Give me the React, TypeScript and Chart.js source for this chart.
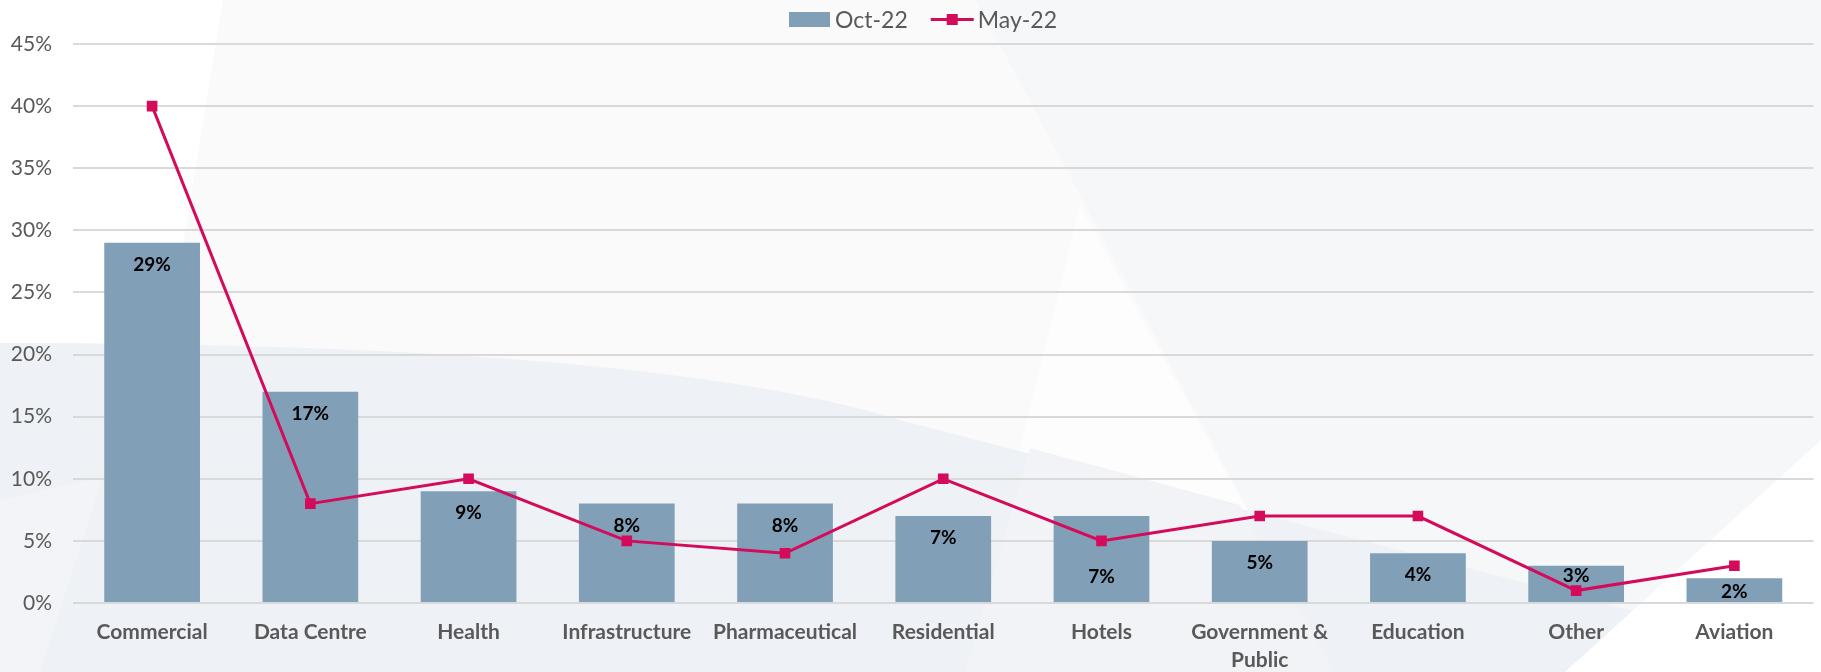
import React, { useEffect, useRef } from "react";
import { Chart, registerables } from "chart.js";

Chart.register(...registerables);

// ---- data ----
const categories: (string | string[])[] = [
  "Commercial",
  "Data Centre",
  "Health",
  "Infrastructure",
  "Pharmaceutical",
  "Residential",
  "Hotels",
  ["Government &", "Public"],
  "Education",
  "Other",
  "Aviation",
];
const oct22Values = [29, 17, 9, 8, 8, 7, 7, 5, 4, 3, 2];
const may22Values = [40, 8, 10, 5, 4, 10, 5, 7, 7, 1, 3];
const seriesNames = ["Oct-22", "May-22"];
const yMin = 0;
const yMax = 45;
const yStep = 5;

// ---- style ----
const FONT = "Lato, 'Open Sans', 'Liberation Sans', sans-serif";
const BAR_COLOR = "#829fb8";
const LINE_COLOR = "#d40a5b";
const TEXT_COLOR = "#595959";
const GRID_COLOR = "#d9d9d9";
// vertical drop (px) of each bar's value label below the bar top
const labelDrops = [22, 22, 22, 22, 22, 22, 61, 22, 22, 10, 14];

const backgroundPlugin = {
  id: "bgShapes",
  beforeDraw(chart: any) {
    const { ctx, width, height } = chart;
    ctx.save();
    ctx.fillStyle = "#fafafb";
    ctx.fillRect(0, 0, width, height);
    // white left strip
    ctx.fillStyle = "#ffffff";
    ctx.beginPath();
    ctx.moveTo(0, 0);
    ctx.lineTo(223, 0);
    ctx.lineTo(113, height);
    ctx.lineTo(0, height);
    ctx.closePath();
    ctx.fill();
    // light band on the right
    ctx.fillStyle = "#f6f7f9";
    ctx.beginPath();
    ctx.moveTo(976, 0);
    ctx.lineTo(width, 0);
    ctx.lineTo(width, height);
    ctx.lineTo(1335, height);
    ctx.closePath();
    ctx.fill();
    // white wedge in the middle
    ctx.fillStyle = "#fdfdfe";
    ctx.beginPath();
    ctx.moveTo(1080, 206);
    ctx.lineTo(1335, height);
    ctx.lineTo(965, height);
    ctx.closePath();
    ctx.fill();
    // lower gray sweep
    ctx.fillStyle = "#eef1f5";
    ctx.beginPath();
    ctx.moveTo(0, 343);
    ctx.quadraticCurveTo(650, 343, 900, 420);
    ctx.lineTo(width, 660);
    ctx.lineTo(width, height);
    ctx.lineTo(0, height);
    ctx.closePath();
    ctx.fill();
    // lighter wedge at far bottom-left
    ctx.fillStyle = "#f2f4f7";
    ctx.beginPath();
    ctx.moveTo(0, 500);
    ctx.lineTo(103, 477);
    ctx.lineTo(40, height);
    ctx.lineTo(0, height);
    ctx.closePath();
    ctx.fill();
    // faint wedge continuing below the sweep
    ctx.fillStyle = "#f1f3f6";
    ctx.beginPath();
    ctx.moveTo(1030, 448);
    ctx.lineTo(1240, 505);
    ctx.lineTo(1335, height);
    ctx.lineTo(965, height);
    ctx.closePath();
    ctx.fill();
    // white triangle bottom-right
    ctx.fillStyle = "#ffffff";
    ctx.beginPath();
    ctx.moveTo(width, 440);
    ctx.lineTo(width, height);
    ctx.lineTo(1565, height);
    ctx.closePath();
    ctx.fill();
    ctx.restore();
  },
};

const legendPlugin = {
  id: "customLegend",
  afterDraw(chart: any) {
    const { ctx } = chart;
    ctx.save();
    ctx.font = `23px ${FONT}`;
    ctx.textBaseline = "middle";
    const w1 = ctx.measureText(seriesNames[0]).width;
    const w2 = ctx.measureText(seriesNames[1]).width;
    const boxW = 41;
    const lineW = 43;
    const total = boxW + 5 + w1 + 23 + lineW + 4 + w2;
    const cy = 19.5;
    let x = 923 - total / 2;
    ctx.fillStyle = BAR_COLOR;
    ctx.fillRect(x, cy - 7.5, boxW, 15);
    x += boxW + 5;
    ctx.fillStyle = TEXT_COLOR;
    ctx.textAlign = "left";
    ctx.fillText(seriesNames[0], x, cy + 1);
    x += w1 + 23;
    ctx.strokeStyle = LINE_COLOR;
    ctx.lineWidth = 3;
    ctx.beginPath();
    ctx.moveTo(x, cy);
    ctx.lineTo(x + lineW, cy);
    ctx.stroke();
    ctx.fillStyle = LINE_COLOR;
    ctx.fillRect(x + lineW / 2 - 5.5, cy - 5.5, 11, 11);
    x += lineW + 4;
    ctx.fillStyle = TEXT_COLOR;
    ctx.fillText(seriesNames[1], x, cy + 1);
    ctx.restore();
  },
};

const valueLabelPlugin = {
  id: "valueLabels",
  afterDatasetsDraw(chart: any) {
    const { ctx } = chart;
    const meta = chart.getDatasetMeta(0);
    const data = chart.data.datasets[0].data as number[];
    ctx.save();
    ctx.font = `bold 19px ${FONT}`;
    ctx.fillStyle = "#000000";
    ctx.textAlign = "center";
    ctx.textBaseline = "middle";
    meta.data.forEach((bar: any, i: number) => {
      ctx.fillText(`${data[i]}%`, bar.x, bar.y + labelDrops[i]);
    });
    ctx.restore();
  },
};

export default function App() {
  const canvasRef = useRef<HTMLCanvasElement | null>(null);

  useEffect(() => {
    document.body.style.margin = "0";
    const canvas = canvasRef.current;
    if (!canvas) return;
    const chart = new Chart(canvas, {
      type: "bar",
      data: {
        labels: categories as any,
        datasets: [
          {
            type: "bar",
            label: seriesNames[0],
            data: oct22Values,
            backgroundColor: BAR_COLOR,
            barPercentage: 0.605,
            categoryPercentage: 1,
            order: 1,
          },
          {
            type: "line",
            label: seriesNames[1],
            data: may22Values,
            borderColor: LINE_COLOR,
            backgroundColor: LINE_COLOR,
            borderWidth: 3,
            pointStyle: "rect",
            pointRadius: 7.5,
            pointBorderWidth: 0,
            pointBackgroundColor: LINE_COLOR,
            tension: 0,
            order: 0,
          },
        ],
      },
      options: {
        animation: false,
        responsive: false,
        maintainAspectRatio: false,
        devicePixelRatio: 1,
        layout: { padding: { top: 44, right: 2, left: 0, bottom: 0 } },
        plugins: {
          legend: { display: false },
          tooltip: { enabled: false },
        },
        scales: {
          x: {
            grid: { display: false, drawTicks: false },
            border: { display: false },
            ticks: {
              color: TEXT_COLOR,
              font: { family: FONT, size: 21, weight: "bold", lineHeight: 1.3 },
              padding: 16,
              maxRotation: 0,
              autoSkip: false,
            },
            afterFit: (s: any) => {
              s.height = 69;
            },
          },
          y: {
            min: yMin,
            max: yMax,
            ticks: {
              stepSize: yStep,
              callback: (v: any) => `${v}%`,
              color: TEXT_COLOR,
              font: { family: FONT, size: 21 },
              padding: 21,
            },
            grid: { color: GRID_COLOR, lineWidth: 2, drawTicks: false },
            border: { display: false },
            afterFit: (s: any) => {
              s.width = 73;
            },
          },
        },
      },
      plugins: [backgroundPlugin, valueLabelPlugin, legendPlugin],
    });
    return () => chart.destroy();
  }, []);

  return (
    <div style={{ width: 1821, height: 672 }}>
      <canvas ref={canvasRef} width={1821} height={672} style={{ width: 1821, height: 672, display: "block" }} />
    </div>
  );
}
